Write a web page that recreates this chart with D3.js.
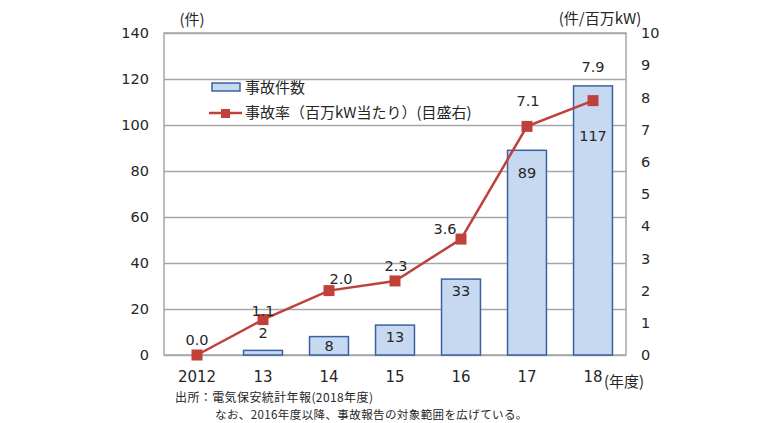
<!DOCTYPE html>
<html>
<head>
<meta charset="utf-8">
<script src="https://cdn.jsdelivr.net/npm/d3@7"></script>
<style>
  body { margin: 0; background: #fff; }
  text { font-family: "DejaVu Sans", "Noto Sans CJK JP", sans-serif; fill: #262626; }
  .jp { font-family: "Noto Sans CJK JP", sans-serif; }
</style>
</head>
<body>
<div id="chart"></div>
<script>
// data
var years = ["2012", "13", "14", "15", "16", "17", "18"];
var accidents = [0, 2, 8, 13, 33, 89, 117];
var rates = [0.0, 1.1, 2.0, 2.3, 3.6, 7.1, 7.9];
var leftTicks = [0, 20, 40, 60, 80, 100, 120, 140];
var rightTicks = [0, 1, 2, 3, 4, 5, 6, 7, 8, 9, 10];

// label nudges (the original labels were moved by hand)
var barLabelDy = [0, -17, 9, 12, 12, 23, 50];
var rateLabelDx = [0, 0, 12, 1, -16, 1, 0];
var rateLabelDy = [-15, -9, -12, -15, -10, -25, -34];

var width = 768, height = 423;
var plot = {left: 164, right: 626, top: 33, bottom: 355};

var svg = d3.select("#chart").append("svg")
    .attr("width", width)
    .attr("height", height);

var x = d3.scaleBand()
    .domain(years)
    .range([plot.left, plot.right])
    .paddingInner(0.41)
    .paddingOuter(0.205);

var yL = d3.scaleLinear().domain([0, 140]).range([plot.bottom, plot.top]);
var yR = d3.scaleLinear().domain([0, 10]).range([plot.bottom, plot.top]);

// gridlines
var grid = svg.append("g")
    .attr("transform", "translate(" + plot.left + ",0)")
    .call(d3.axisLeft(yL).tickValues(leftTicks).tickSize(-(plot.right - plot.left)).tickFormat(""));
grid.select(".domain").remove();
grid.selectAll("line").attr("stroke", "#a6a6a6").attr("stroke-width", 1.3);

// frame
svg.append("rect")
    .attr("x", plot.left).attr("y", plot.top)
    .attr("width", plot.right - plot.left).attr("height", plot.bottom - plot.top)
    .attr("fill", "none").attr("stroke", "#a6a6a6").attr("stroke-width", 1.5);

// left axis
var axL = svg.append("g")
    .attr("transform", "translate(" + plot.left + ",0)")
    .call(d3.axisLeft(yL).tickValues(leftTicks).tickSize(0).tickPadding(15));
axL.select(".domain").remove();
axL.selectAll("text").style("font-size", "14.5px").attr("fill", "#262626");

// right axis
var axR = svg.append("g")
    .attr("transform", "translate(" + plot.right + ",0)")
    .call(d3.axisRight(yR).tickValues(rightTicks).tickSize(0).tickPadding(15));
axR.select(".domain").remove();
axR.selectAll("text").style("font-size", "14.5px").attr("fill", "#262626");

// bottom axis
var axB = svg.append("g")
    .attr("transform", "translate(0," + plot.bottom + ")")
    .call(d3.axisBottom(x).tickSize(0).tickPadding(16));
axB.select(".domain").remove();
axB.selectAll("text").style("font-size", "15px").attr("fill", "#262626");

// bars
svg.selectAll(".bar")
    .data(accidents)
    .enter().append("rect")
    .attr("class", "bar")
    .attr("x", function(d, i) { return x(years[i]); })
    .attr("y", function(d) { return yL(d); })
    .attr("width", x.bandwidth())
    .attr("height", function(d) { return plot.bottom - yL(d); })
    .attr("fill", "#c6d9f1")
    .attr("stroke", "#3a62a0")
    .attr("stroke-width", 1.5)
    .style("display", function(d) { return d > 0 ? null : "none"; });

svg.selectAll(".barlabel")
    .data(accidents)
    .enter().append("text")
    .attr("class", "barlabel")
    .attr("x", function(d, i) { return x(years[i]) + x.bandwidth() / 2; })
    .attr("y", function(d, i) { return yL(d) + barLabelDy[i]; })
    .attr("dy", "0.35em")
    .attr("text-anchor", "middle")
    .style("font-size", "14.5px")
    .style("display", function(d) { return d > 0 ? null : "none"; })
    .text(function(d) { return d; });

// rate line
var line = d3.line()
    .x(function(d, i) { return x(years[i]) + x.bandwidth() / 2; })
    .y(function(d) { return yR(d); });

svg.append("path")
    .datum(rates)
    .attr("d", line)
    .attr("fill", "none")
    .attr("stroke", "#c0403a")
    .attr("stroke-width", 2.5);

svg.selectAll(".marker")
    .data(rates)
    .enter().append("rect")
    .attr("class", "marker")
    .attr("x", function(d, i) { return x(years[i]) + x.bandwidth() / 2 - 5.5; })
    .attr("y", function(d) { return yR(d) - 5.5; })
    .attr("width", 11).attr("height", 11)
    .attr("fill", "#c0403a");

svg.selectAll(".ratelabel")
    .data(rates)
    .enter().append("text")
    .attr("class", "ratelabel")
    .attr("x", function(d, i) { return x(years[i]) + x.bandwidth() / 2 + rateLabelDx[i]; })
    .attr("y", function(d, i) { return yR(d) + rateLabelDy[i]; })
    .attr("dy", "0.35em")
    .attr("text-anchor", "middle")
    .style("font-size", "14.5px")
    .text(function(d) { return d.toFixed(1); });

// legend
var leg = svg.append("g");
leg.append("rect")
    .attr("x", 212).attr("y", 83).attr("width", 28).attr("height", 8)
    .attr("fill", "#c6d9f1").attr("stroke", "#3a62a0").attr("stroke-width", 1.5);
leg.append("text")
    .attr("class", "jp")
    .attr("x", 245).attr("y", 88).attr("dy", "0.35em")
    .style("font-size", "15px")
    .text("事故件数");
leg.append("line")
    .attr("x1", 209).attr("x2", 242).attr("y1", 113).attr("y2", 113)
    .attr("stroke", "#c0403a").attr("stroke-width", 2.5);
leg.append("rect")
    .attr("x", 221).attr("y", 109).attr("width", 9).attr("height", 9)
    .attr("fill", "#c0403a");
leg.append("text")
    .attr("class", "jp")
    .attr("x", 245).attr("y", 113).attr("dy", "0.35em")
    .style("font-size", "15px")
    .text("事故率（百万kW当たり）(目盛右)");

// axis titles
svg.append("text")
    .attr("class", "jp")
    .attr("x", 192).attr("y", 20).attr("dy", "0.35em")
    .attr("text-anchor", "middle")
    .style("font-size", "15px")
    .text("(件)");
svg.append("text")
    .attr("class", "jp")
    .attr("x", 600).attr("y", 19).attr("dy", "0.35em")
    .attr("text-anchor", "middle")
    .style("font-size", "15px")
    .text("(件/百万kW)");
svg.append("text")
    .attr("class", "jp")
    .attr("x", 604).attr("y", 382).attr("dy", "0.35em")
    .style("font-size", "15px")
    .text("(年度)");

// source notes
svg.append("text")
    .attr("class", "jp")
    .attr("x", 175).attr("y", 398).attr("dy", "0.35em")
    .style("font-size", "12px")
    .style("letter-spacing", "0.4px")
    .text("出所：電気保安統計年報(2018年度)");
svg.append("text")
    .attr("class", "jp")
    .attr("x", 215).attr("y", 415).attr("dy", "0.35em")
    .style("font-size", "11.5px")
    .style("letter-spacing", "0.4px")
    .text("なお、2016年度以降、事故報告の対象範囲を広げている。");
</script>
</body>
</html>
